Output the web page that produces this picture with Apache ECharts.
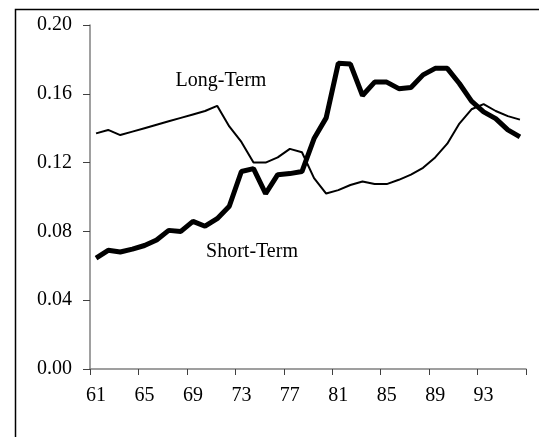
<!DOCTYPE html>
<html>
<head>
<meta charset="utf-8">
<script src="https://cdn.jsdelivr.net/npm/echarts@6/dist/echarts.min.js"></script>
<style>
html,body{margin:0;padding:0;background:#fff;}
#chart{width:539px;height:437px;}
</style>
</head>
<body>
<div id="chart"></div>
<script>
var years = ['61','62','63','64','65','66','67','68','69','70','71','72','73','74','75','76','77','78','79','80','81','82','83','84','85','86','87','88','89','90','91','92','93','94','95','96'];
var longTerm = [0.137,0.139,0.136,0.138,0.140,0.142,0.144,0.146,0.148,0.150,0.153,0.141,0.132,0.120,0.120,0.123,0.128,0.126,0.111,0.102,0.104,0.107,0.109,0.1075,0.1075,0.110,0.113,0.117,0.123,0.131,0.1427,0.151,0.154,0.150,0.147,0.145];
var shortTerm = [0.0645,0.069,0.068,0.0697,0.0718,0.075,0.0806,0.080,0.0858,0.083,0.0874,0.0946,0.1148,0.1165,0.102,0.113,0.1136,0.1148,0.134,0.146,0.1777,0.1773,0.159,0.1668,0.1668,0.163,0.1637,0.171,0.1748,0.1748,0.166,0.1557,0.1495,0.1456,0.139,0.135];
var yTicks = [0, 0.04, 0.08, 0.12, 0.16, 0.20];

var chart = echarts.init(document.getElementById('chart'), null, {renderer:'canvas'});
var font = 'Liberation Serif';
chart.setOption({
  animation: false,
  backgroundColor: '#ffffff',
  grid: {left: 90, right: 13, top: 25, bottom: 68, containLabel: false},
  xAxis: {
    type: 'category',
    data: years,
    boundaryGap: true,
    axisLine: {show: true, lineStyle: {color: '#808080', width: 1.5}},
    axisTick: {show: true, interval: 3, length: 6, lineStyle: {color: '#404040', width: 1}},
    axisLabel: {interval: 3, margin: 17, color: '#000', fontFamily: font, fontSize: 20},
    splitLine: {show: false}
  },
  yAxis: {
    type: 'value',
    min: yTicks[0],
    max: yTicks[yTicks.length - 1],
    interval: 0.04,
    axisLine: {show: true, lineStyle: {color: '#808080', width: 1.5}},
    axisTick: {show: true, length: 7, lineStyle: {color: '#404040', width: 1}},
    axisLabel: {margin: 18, color: '#000', fontFamily: font, fontSize: 20,
      formatter: function (v) { return v.toFixed(2); }},
    splitLine: {show: false}
  },
  series: [
    {
      name: 'Long-Term', type: 'line', data: longTerm,
      symbol: 'none', lineStyle: {color: '#000', width: 2}, z: 3
    },
    {
      name: 'Short-Term', type: 'line', data: shortTerm,
      symbol: 'none', lineStyle: {color: '#000', width: 5}, z: 2
    }
  ],
  graphic: {
    elements: [
      {type: 'polyline', silent: true, left: 13, top: 7, z: 100,
        shape: {points: [[0, 430], [0, 0], [526, 0]]},
        style: {stroke: '#000', lineWidth: 1.5, fill: null}},
      {type: 'text', x: 221, y: 81, style: {text: 'Long-Term', font: '20px "Liberation Serif"', fill: '#000', textAlign: 'center', textVerticalAlign: 'middle'}},
      {type: 'text', x: 252, y: 252, style: {text: 'Short-Term', font: '20px "Liberation Serif"', fill: '#000', textAlign: 'center', textVerticalAlign: 'middle'}}
    ]
  }
});
</script>
</body>
</html>
